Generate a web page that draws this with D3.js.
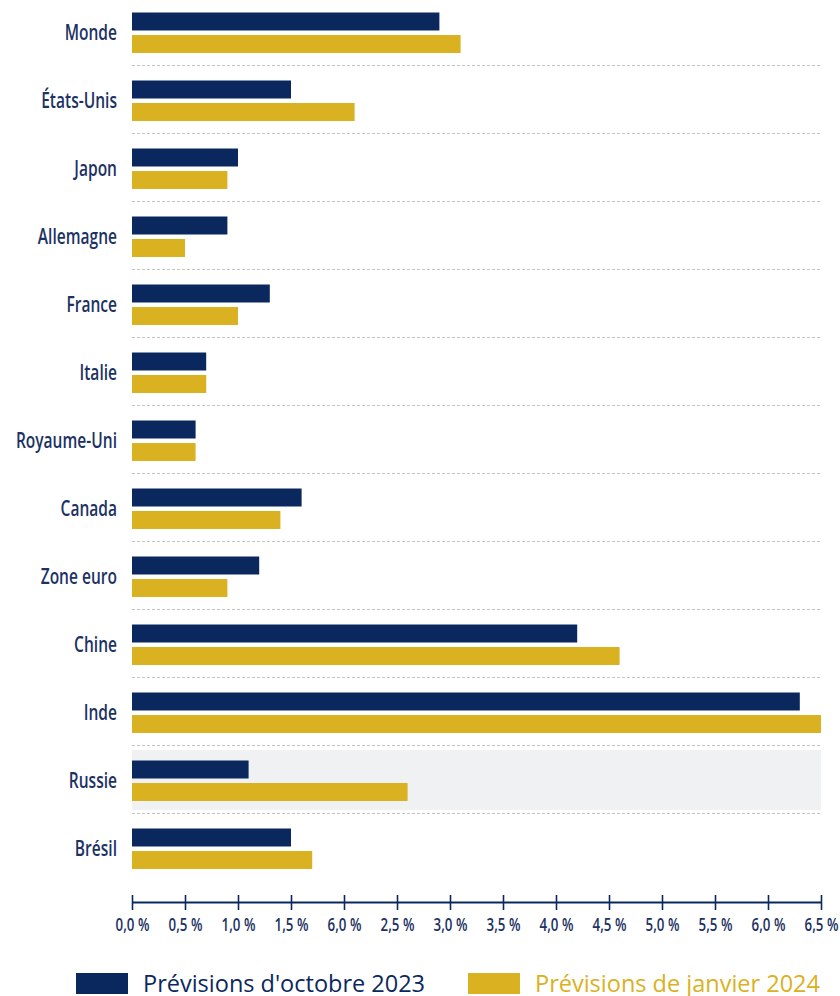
<!DOCTYPE html>
<html>
<head>
<meta charset="utf-8">
<script src="https://cdn.jsdelivr.net/npm/d3@7"></script>
<style>
  body { margin: 0; background: #fff; }
  svg { display: block; }
  .cat, .tick text { font-family: "Open Sans", "Noto Sans", sans-serif; fill: #1c3263; font-weight: 600; }
  .legend text { font-family: "Open Sans", "Noto Sans", sans-serif; }
</style>
</head>
<body>
<svg id="chart" width="840" height="996"></svg>
<script>
// pays / zones
let categories = ["Monde", "États-Unis", "Japon", "Allemagne", "France", "Italie", "Royaume-Uni",
    "Canada", "Zone euro", "Chine", "Inde", "Russie", "Brésil"];

// croissance prévue (%)
let octobre2023 = [2.9, 1.5, 1.0, 0.9, 1.3, 0.7, 0.6, 1.6, 1.2, 4.2, 6.3, 1.1, 1.5];
let janvier2024 = [3.1, 2.1, 0.9, 0.5, 1.0, 0.7, 0.6, 1.4, 0.9, 4.6, 6.5, 2.6, 1.7];

let seriesNames = ["Prévisions d'octobre 2023", "Prévisions de janvier 2024"];
let tickValues = [0, 0.5, 1, 1.5, 2, 2.5, 3, 3.5, 4, 4.5, 5, 5.5, 6, 6.5];
// (le "6,0 %" a la place de 2,0 vient de l'original)
let tickLabels = ["0,0\u00a0%", "0,5\u00a0%", "1,0\u00a0%", "1,5\u00a0%", "6,0\u00a0%", "2,5\u00a0%", "3,0\u00a0%",
    "3,5\u00a0%", "4,0\u00a0%", "4,5\u00a0%", "5,0\u00a0%", "5,5\u00a0%", "6,0\u00a0%", "6,5\u00a0%"];
let highlighted = ["Russie"];

let navy = "#0a285e",
    gold = "#dab121";

let svg = d3.select("#chart");

let xScale = d3.scaleLinear().domain([0, 6.5]).range([132, 821]);
let yScale = d3.scaleBand().domain(categories).range([-2, 882]);
let inner = d3.scaleBand().domain([0, 1]).range([14.5, 55]).paddingInner(0.2);

let rows = categories.map((c, i) => {
    return { name: c, values: [octobre2023[i], janvier2024[i]] };
});

// bande grise (Russie)
svg.selectAll("rect.hl")
    .data(highlighted)
    .enter().append("rect")
    .attr("class", "hl")
    .attr("x", xScale(0))
    .attr("width", xScale(6.5) - xScale(0))
    .attr("y", (d) => yScale(d) + 4)
    .attr("height", yScale.bandwidth() - 8)
    .attr("fill", "#f0f1f3");

// separateurs pointilles
svg.selectAll("line.sep")
    .data(categories.slice(0, -1))
    .enter().append("line")
    .attr("class", "sep")
    .attr("x1", xScale(0))
    .attr("x2", xScale(6.5))
    .attr("y1", (d) => yScale(d) + yScale.bandwidth() - 0.5)
    .attr("y2", (d) => yScale(d) + yScale.bandwidth() - 0.5)
    .attr("stroke", "#c4c4c4")
    .attr("stroke-width", 1.2)
    .attr("stroke-dasharray", "3,2");

let g = svg.selectAll("g.row")
    .data(rows)
    .enter().append("g")
    .attr("class", "row")
    .attr("transform", (d) => "translate(0," + yScale(d.name) + ")");

g.selectAll("rect")
    .data((d) => d.values)
    .enter().append("rect")
    .attr("x", xScale(0))
    .attr("y", (d, i) => inner(i))
    .attr("width", (d) => xScale(d) - xScale(0))
    .attr("height", inner.bandwidth())
    .attr("fill", (d, i) => i == 0 ? navy : gold);

// libelles etroits (police condensee simulee)
g.append("text")
    .attr("class", "cat")
    .attr("transform", "translate(117," + (yScale.bandwidth() / 2 + 1) + ") scale(0.74,1)")
    .attr("dy", "0.35em")
    .attr("text-anchor", "end")
    .style("font-size", "21px")
    .text((d) => d.name);

// axe
let axis = svg.append("g")
    .attr("transform", "translate(0,902)")
    .call(d3.axisBottom(xScale)
        .tickValues(tickValues)
        .tickFormat((d, i) => tickLabels[i])
        .tickSizeOuter(0));

axis.select(".domain").attr("stroke", navy).attr("stroke-width", 2);
axis.selectAll(".tick line")
    .attr("stroke", navy)
    .attr("stroke-width", 1.6)
    .attr("y1", -7)
    .attr("y2", 8);
axis.selectAll(".tick text")
    .attr("y", 16)
    .attr("transform", "scale(0.74,1)")
    .style("font-size", "18px");

// legende
let legend = svg.append("g").attr("class", "legend");
let legendX = [76, 468];
seriesNames.forEach((s, i) => {
    legend.append("rect")
        .attr("x", legendX[i])
        .attr("y", 973)
        .attr("width", 52)
        .attr("height", 21)
        .attr("fill", i == 0 ? navy : gold);
    legend.append("text")
        .attr("x", legendX[i] + 67)
        .attr("y", 992)
        .attr("fill", i == 0 ? navy : gold)
        .style("font-size", "23.5px")
        .text(s);
});
</script>
</body>
</html>
